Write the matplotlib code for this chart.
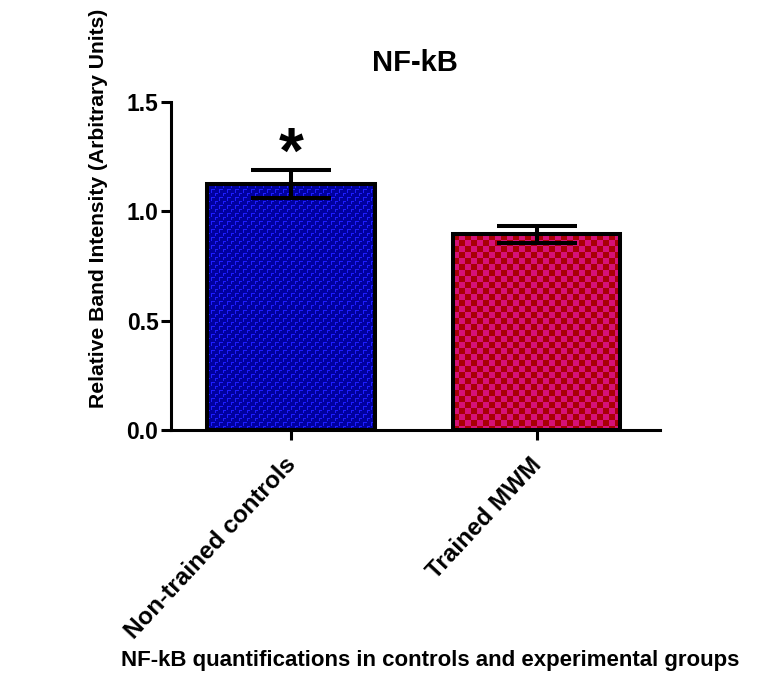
import numpy as np
import matplotlib
matplotlib.use("Agg")
import matplotlib.pyplot as plt
import matplotlib.transforms as mtransforms

plt.rcParams['font.family'] = ['Liberation Sans', 'DejaVu Sans']
plt.rcParams['font.weight'] = 'bold'

groups = ["Non-trained controls", "Trained MWM"]
means = [1.125, 0.895]
sems = [0.065, 0.040]
significance = ["*", ""]
yticks = [0.0, 0.5, 1.0, 1.5]

fig = plt.figure(figsize=(7.62, 6.77), dpi=100)
ax = fig.add_axes([0.2244, 0.3648, 0.6414, 0.4845])

x = np.arange(len(groups))
bars = ax.bar(x, means, width=0.68, color='none', edgecolor='black',
              linewidth=2.9, zorder=3)
ax.errorbar(x, means, yerr=sems, fmt='none', ecolor='black',
            elinewidth=2.9, capsize=29, capthick=2.9, zorder=4)

ax.set_xlim(-0.488, 1.5)
ax.set_ylim(0, 1.5)


def blue_tile():
    t = np.zeros((8, 8), dtype=int)
    t[0, 0:4] = 1
    t[0:4, 0] = 1
    t[4, 4:7] = 1
    t[4:7, 4] = 1
    return t


def checker_tile(n=6):
    t = np.zeros((2 * n, 2 * n), dtype=int)
    t[:n, :n] = 1
    t[n:, n:] = 1
    return t


# pixel-resolution texture spanning the axes area
fig.canvas.draw()
bbox = ax.get_window_extent()
w_px, h_px = int(round(bbox.width)), int(round(bbox.height))

patterns = [
    (blue_tile(), np.array([0.0, 0.0, 0.62]), np.array([0.12, 0.12, 1.0])),
    (checker_tile(6), np.array([0.66, 0.0, 0.02]), np.array([0.84, 0.07, 0.47])),
]
for bar, (tile, bg, fg) in zip(bars, patterns):
    reps = (h_px // tile.shape[0] + 1, w_px // tile.shape[1] + 1)
    mask = np.tile(tile, reps)[:h_px, :w_px]
    img = np.where(mask[..., None] == 1, fg, bg)
    im = ax.imshow(img, extent=(*ax.get_xlim(), *ax.get_ylim()),
                   origin='upper', interpolation='nearest', aspect='auto',
                   zorder=2)
    im.set_clip_path(bar)

ax.set_xlim(-0.488, 1.5)
ax.set_ylim(0, 1.5)

for xi, m, s, lab in zip(x, means, sems, significance):
    if lab:
        ax.text(xi, m + s - 0.015, lab, ha='center', va='baseline',
                fontsize=46, fontweight='bold')

ax.set_yticks(yticks)
ax.set_yticklabels([f"{v:.1f}" for v in yticks])
ax.set_xticks(x)
ax.set_xticklabels(groups, rotation=47, ha='right', rotation_mode='anchor')
ax.tick_params(axis='both', width=2.2, length=7, labelsize=16.5, direction='out',
               pad=2)
ax.tick_params(axis='x', labelsize=17.5, pad=4)
shift = mtransforms.ScaledTranslation(-7 / 100, -8 / 100, fig.dpi_scale_trans)
for lbl in ax.get_xticklabels():
    lbl.set_transform(lbl.get_transform() + shift)
for lbl in ax.get_xticklabels() + ax.get_yticklabels():
    lbl.set_fontweight('bold')

for side in ['top', 'right']:
    ax.spines[side].set_visible(False)
for side in ['left', 'bottom']:
    ax.spines[side].set_linewidth(2.2)

ax.set_ylabel("Relative Band Intensity (Arbitrary Units)", fontsize=15.2,
              fontweight='bold')
ax.yaxis.set_label_coords(-0.129, 0.677)
ax.set_title("NF-kB", fontsize=21, fontweight='bold', pad=22)

fig.text(0.565, 0.025, "NF-kB quantifications in controls and experimental groups",
         ha='center', va='center', fontsize=16, fontweight='bold')

fig.savefig("out.png", dpi=100)
